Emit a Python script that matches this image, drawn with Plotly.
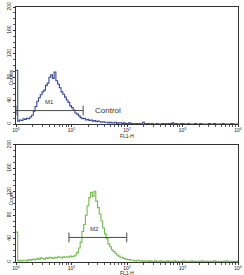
import plotly.graph_objects as go
from plotly.subplots import make_subplots

# ---- data (channel index -> log position = ch/32) ----
channels = list(range(0, 129))
control_counts = [92, 5, 7, 6, 9, 8, 10, 9, 12, 15, 22, 30, 39, 45, 50, 55,
                  58, 66, 70, 80, 84, 78, 89, 74, 68, 62, 55, 51, 46, 41, 37, 31,
                  28, 24, 19, 17, 14, 11, 9, 10, 7, 8, 6, 7, 5, 6, 4, 5,
                  4, 3, 4, 3, 3, 2, 3, 2, 2, 3, 1, 2, 2, 1, 2, 1,
                  1, 2, 1, 1, 0, 1, 0, 1, 0, 3, 0, 1, 1, 0, 1, 0,
                  0, 1, 0, 0, 1, 0, 1, 0, 1, 1, 2, 0, 1, 0, 0, 1,
                  1, 0, 0, 1, 0, 0, 0, 1, 0, 0, 1, 0, 0, 0, 0, 1,
                  0, 0, 1, 0, 0, 0, 0, 1, 0, 0, 0, 0, 1, 0, 0, 0, 0]
sample_counts = [51, 2, 3, 2, 3, 3, 2, 4, 3, 4, 5, 4, 6, 5, 7, 6,
                 5, 7, 6, 8, 7, 6, 8, 7, 9, 8, 7, 9, 8, 9, 8, 10,
                 9, 10, 12, 16, 24, 34, 52, 64, 80, 96, 110, 119, 112, 121, 104, 93,
                 82, 70, 58, 48, 40, 31, 26, 21, 18, 15, 12, 10, 8, 7, 6, 5,
                 4, 4, 3, 3, 2, 2, 3, 2, 2, 1, 2, 2, 1, 2, 1, 1,
                 2, 1, 1, 2, 1, 1, 1, 2, 1, 1, 1, 2, 1, 1, 1, 1,
                 2, 1, 1, 1, 1, 2, 1, 1, 1, 1, 1, 2, 1, 1, 1, 1,
                 1, 1, 2, 1, 1, 1, 1, 1, 1, 2, 1, 1, 1, 1, 1, 1, 1]

fl1 = [10 ** (c / 32) for c in channels]

m1_gate = [1.0, 16.2]
m1_level = 23
m2_gate = [9.0, 99.0]
m2_level = 42

x_tickvals = [1, 10, 100, 1000, 10000]
x_ticktext = ["10<sup>0</sup>", "10<sup>1</sup>", "10<sup>2</sup>", "10<sup>3</sup>", "10<sup>4</sup>"]
y_tickvals = [0, 40, 80, 120, 160, 200]

blue = "#34479a"
green = "#72bb4c"
gate_col = "#4a4a4a"

fig = make_subplots(rows=2, cols=1, vertical_spacing=0.08)

fig.add_trace(go.Scatter(x=fl1, y=control_counts, mode="lines",
                         line=dict(color=blue, width=1.1, shape="hv"),
                         showlegend=False), row=1, col=1)
fig.add_trace(go.Scatter(x=fl1, y=sample_counts, mode="lines",
                         line=dict(color=green, width=1.1, shape="hv"),
                         showlegend=False), row=2, col=1)

# gates
fig.add_trace(go.Scatter(x=m1_gate, y=[m1_level, m1_level], mode="lines+markers",
                         line=dict(color=gate_col, width=1),
                         marker=dict(symbol="line-ns", size=7,
                                     line=dict(color=gate_col, width=1)),
                         showlegend=False), row=1, col=1)
fig.add_trace(go.Scatter(x=m2_gate, y=[m2_level, m2_level], mode="lines+markers",
                         line=dict(color=gate_col, width=1),
                         marker=dict(symbol="line-ns", size=7,
                                     line=dict(color=gate_col, width=1)),
                         showlegend=False), row=2, col=1)

fig.add_annotation(x=0.6, y=m1_level + 6, xref="x", yref="y", text="M1",
                   showarrow=False, font=dict(size=6, color="#333"), yanchor="bottom")
fig.add_annotation(x=1.38, y=m1_level, xref="x", yref="y", text="Control",
                   showarrow=False, font=dict(size=8, color="#333"), xanchor="left")
fig.add_annotation(x=1.42, y=m2_level + 5, xref="x2", yref="y2", text="M2",
                   showarrow=False, font=dict(size=6, color="#333"), yanchor="bottom")

# axis titles
title_font = dict(family="Liberation Sans, Arial", size=5, color="#222")
fig.add_annotation(x=0.5, y=0.494, xref="paper", yref="paper", text="FL1-H",
                   showarrow=False, font=title_font, yanchor="middle")
fig.add_annotation(x=0.5, y=-0.043, xref="paper", yref="paper", text="FL1-H",
                   showarrow=False, font=title_font, yanchor="middle")
fig.add_annotation(x=-0.047, y=0.761, xref="paper", yref="paper", text="Counts",
                   textangle=-90, showarrow=False, font=title_font)
fig.add_annotation(x=-0.047, y=0.212, xref="paper", yref="paper", text="Count",
                   textangle=-90, showarrow=False, font=title_font)

axis_font = dict(family="Liberation Sans, Arial", size=5, color="#222")
for r in [1, 2]:
    fig.update_xaxes(type="log", range=[0, 4], tickmode="array",
                     tickvals=x_tickvals, ticktext=x_ticktext,
                     ticks="outside", ticklen=2, tickcolor="#333",
                     ticklabelstandoff=-1,
                     minor=dict(ticks="outside", ticklen=2, tickcolor="#555",
                                tickvals=[v * k for v in [1, 10, 100, 1000] for k in range(2, 10)]),
                     showline=True, linecolor="#333", linewidth=1, mirror=True,
                     showgrid=False, zeroline=False, tickfont=axis_font,
                     automargin=False, row=r, col=1)
    fig.update_yaxes(range=[0, 200], tickmode="array", tickvals=y_tickvals,
                     tickangle=-90, ticks="outside", ticklen=2, tickcolor="#333",
                     minor=dict(ticks="outside", ticklen=2, dtick=10, tickcolor="#555"),
                     showline=True, linecolor="#333", linewidth=1, mirror=True,
                     showgrid=False, zeroline=False, tickfont=axis_font,
                     automargin=False, row=r, col=1)

fig.update_layout(
    width=244, height=275,
    margin=dict(l=16, r=6, t=7, b=13),
    paper_bgcolor="white", plot_bgcolor="white",
    font=dict(family="Liberation Sans, Arial"),
)
fig.update_yaxes(domain=[0.541, 1.0], row=1, col=1)
fig.update_yaxes(domain=[0.0, 0.459], row=2, col=1)

fig.write_html("out.html")
